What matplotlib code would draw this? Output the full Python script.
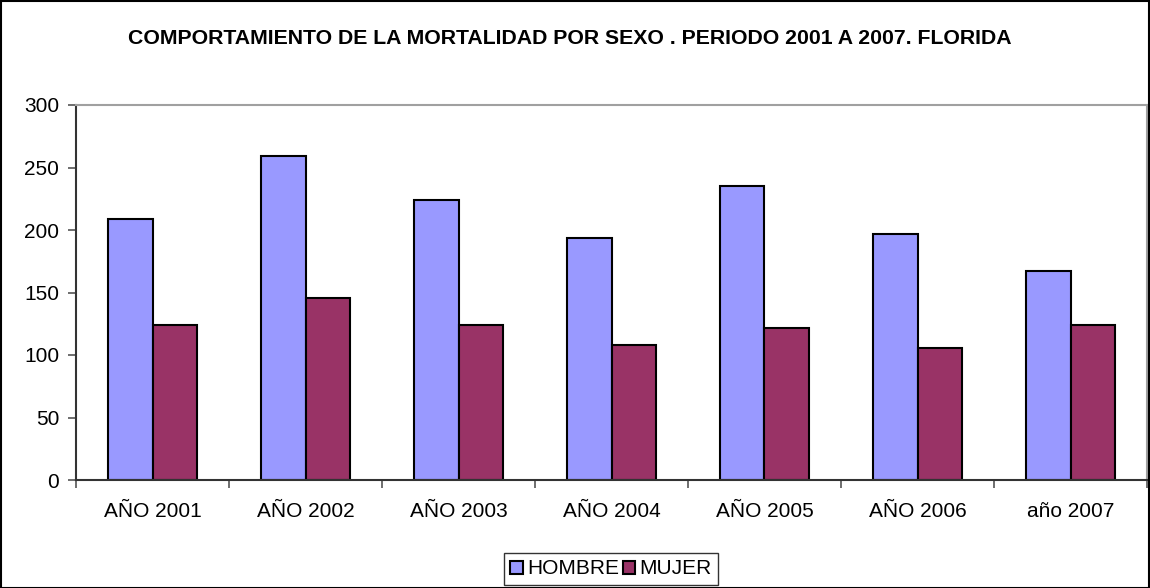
import matplotlib
matplotlib.use("Agg")
import matplotlib.pyplot as plt
import numpy as np
from matplotlib.patches import Rectangle

categories = ["AÑO 2001", "AÑO 2002", "AÑO 2003", "AÑO 2004", "AÑO 2005", "AÑO 2006", "año 2007"]
hombre = [209, 259, 224, 194, 235, 197, 167]
mujer = [124, 146, 124, 108, 122, 106, 124]
yticks = [0, 50, 100, 150, 200, 250, 300]

plt.rcParams['font.family'] = ['Liberation Sans', 'DejaVu Sans']

W, H = 1150, 588
fig = plt.figure(figsize=(W / 100, H / 100), dpi=100)
fig.patch.set_facecolor("white")
fig.add_artist(Rectangle((0.001, 0.0), 0.998, 0.998, transform=fig.transFigure,
                         fill=False, edgecolor="black", linewidth=1.5))

ax = fig.add_axes([76 / W, (H - 480) / H, 1071 / W, 375 / H])
x = np.arange(len(categories))
bw = 0.2876
ax.bar(x - bw / 2, hombre, width=bw, color="#9999FF", edgecolor="black", linewidth=1.5, label="HOMBRE")
ax.bar(x + bw / 2, mujer, width=bw, color="#993366", edgecolor="black", linewidth=1.5, label="MUJER")

ax.set_xlim(-0.5, len(categories) - 0.5)
ax.set_ylim(0, 300)
ax.set_yticks(yticks)
ax.set_yticklabels([str(v) for v in yticks], fontsize=15)
ax.set_xticks(x)
ax.set_xticklabels(categories, fontsize=15)
ax.tick_params(axis="x", length=0, pad=16)
ax.set_xticks(np.arange(len(categories) + 1) - 0.5, minor=True)
ax.tick_params(axis="x", which="minor", length=6, width=1.2, color="#555555")
ax.tick_params(axis="y", length=6, width=1.2, color="#555555", pad=6)

for s in ["top", "right"]:
    ax.spines[s].set_color("#a0a0a0")
    ax.spines[s].set_linewidth(1.5)
for s in ["left", "bottom"]:
    ax.spines[s].set_color("#333333")
    ax.spines[s].set_linewidth(1.5)

fig.text(570 / W, 1 - 38 / H, "COMPORTAMIENTO DE LA MORTALIDAD POR SEXO . PERIODO 2001 A 2007. FLORIDA",
         ha="center", va="center", fontsize=15.3, fontweight="bold")

leg = fig.legend(loc="center", bbox_to_anchor=(611 / W, 1 - 569 / H), ncol=2, fontsize=15,
                 frameon=True, fancybox=False, edgecolor="black", handlelength=0.6,
                 handleheight=0.6, handletextpad=0.2, columnspacing=0.2, borderpad=0.3,
                 borderaxespad=0)
leg.get_frame().set_linewidth(1.0)

fig.savefig("out.png", dpi=100)
